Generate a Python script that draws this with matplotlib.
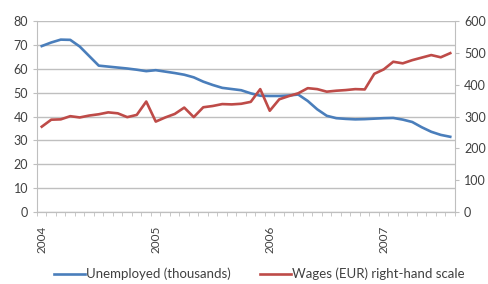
import numpy as np
import matplotlib
matplotlib.use("Agg")
import matplotlib.pyplot as plt

plt.rcParams['font.family'] = ['Lato', 'DejaVu Sans']

# monthly, Jan 2004 - Aug 2007
months = [f"{y}-{m:02d}" for y in range(2004, 2008) for m in range(1, 13)][:44]
year_labels = ['2004', '2005', '2006', '2007']

unemployed = [69.5, 71.0, 72.2, 72.1, 69.3, 65.3, 61.3, 60.9, 60.5, 60.1, 59.6, 59.0,
              59.4, 58.8, 58.2, 57.5, 56.4, 54.6, 53.2, 52.0, 51.5, 51.0, 49.7, 48.7,
              48.6, 48.6, 48.8, 49.2, 46.5, 43.0, 40.3, 39.3, 39.0, 38.8, 38.9, 39.1,
              39.3, 39.4, 38.7, 37.7, 35.5, 33.6, 32.3, 31.5]
wages = [268, 290, 291, 301, 297, 303, 307, 313, 310, 298, 305, 347,
         284, 297, 308, 328, 298, 329, 333, 339, 338, 340, 346, 386,
         318, 354, 364, 373, 389, 386, 378, 381, 383, 386, 385, 434,
         448, 472, 467, 477, 485, 493, 486, 499]

blue = '#4a7ebb'
red = '#be4b48'
grey = '#bfbfbf'
txt = '#404040'

fig = plt.figure(figsize=(4.89, 2.84), dpi=100)
ax = fig.add_axes([37/489, 1 - 212/284, 418/489, 191/284])
ax2 = ax.twinx()

x = np.arange(len(months))
ax.plot(x, unemployed, color=blue, lw=1.9, label='Unemployed (thousands)', zorder=3)
ax2.plot(x, wages, color=red, lw=1.9, label='Wages (EUR) right-hand scale', zorder=3)

ax.set_xlim(-0.5, len(months) - 0.5)
ax.set_ylim(0, 80)
ax2.set_ylim(0, 600)
ax.set_yticks(np.arange(0, 81, 10))
ax2.set_yticks(np.arange(0, 601, 100))
ax.yaxis.grid(True, color=grey, lw=1)
ax.set_axisbelow(True)

# category axis: ticks between months, labels on Januaries
ax.set_xticks(np.arange(-0.5, len(months), 1), minor=True)
ax.set_xticks([0, 12, 24, 36])
ax.set_xticklabels(year_labels, rotation=90)
ax.tick_params(axis='x', which='major', length=0, pad=10)
ax.tick_params(axis='x', which='minor', length=3, color=grey, direction='out')

for a in (ax, ax2):
    a.spines['top'].set_visible(False)
    for s in ('left', 'right', 'bottom'):
        a.spines[s].set_color(grey)
    a.tick_params(axis='y', length=3, color=grey, labelsize=9, labelcolor=txt)
    a.tick_params(axis='x', labelsize=8.5, labelcolor=txt)
ax2.spines['left'].set_visible(False)
ax.spines['right'].set_visible(False)

h1, l1 = ax.get_legend_handles_labels()
h2, l2 = ax2.get_legend_handles_labels()
fig.legend(h1 + h2, l1 + l2, loc='center', bbox_to_anchor=(0.53, 0.035), ncol=2,
           frameon=False, fontsize=9.5, handlelength=2.4, columnspacing=2.2,
           labelcolor=txt, handletextpad=0.05, borderpad=0.1)

fig.savefig('out.png', dpi=100)
